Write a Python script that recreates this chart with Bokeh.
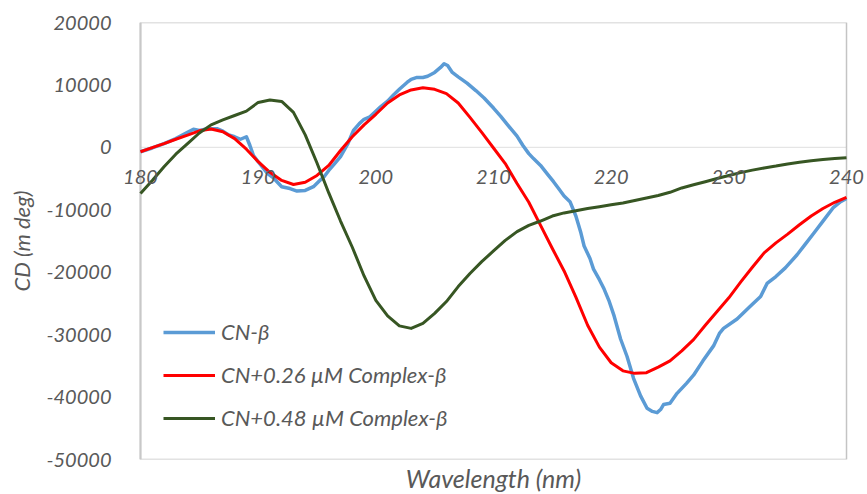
from bokeh.plotting import figure
from bokeh.models import Legend, LegendItem, FixedTicker, Title, Span, BoxAnnotation
from bokeh.embed import file_html
from bokeh.resources import INLINE

# ---------------- data ----------------
red_wl = list(range(180, 241))
red_cd = [-700, -50, 600, 1300, 1950, 2650, 2950, 2500, 1400, -300,
          -2300, -4000, -5300, -5950, -5600, -4500, -2900, -500, 1700, 3600,
          5300, 7100, 8400, 9200, 9550, 9300, 8600, 7100, 4800, 2400,
          -100, -2600, -5800, -8800, -12500, -16200, -19800, -24000, -28500, -32000,
          -34500, -35800, -36200, -36100, -35200, -34200, -32600, -30800, -28500, -26300,
          -24100, -21600, -19200, -16900, -15300, -13900, -12400, -11000, -9800, -8800,
          -8000]

green_wl = list(range(180, 241))
green_cd = [-7400, -5300, -3100, -1100, 600, 2300, 3600, 4400, 5100, 5800,
            7200, 7600, 7350, 5600, 2000, -2500, -7300, -11800, -16000, -20600,
            -24500, -27000, -28600, -29000, -28200, -26600, -24700, -22300, -20200, -18300,
            -16600, -14900, -13500, -12500, -11800, -11000, -10500, -10150, -9800, -9500,
            -9200, -8900, -8500, -8100, -7700, -7200, -6500, -6000, -5500, -5000,
            -4500, -4050, -3650, -3300, -3000, -2650, -2400, -2150, -1950, -1800,
            -1650]

blue_wl = [180, 181, 182, 183, 184, 184.5, 185, 185.5, 186, 186.5,
           187, 187.5, 188, 188.5, 189, 189.3, 189.6, 190, 190.8, 191.3,
           192, 192.7, 193.3, 194, 194.7, 195.3, 195.6, 196, 196.5, 197,
           197.3, 197.6, 198.1, 198.6, 199, 199.5, 200, 200.4, 201, 201.5,
           202, 202.65, 203, 203.5, 204, 204.4, 205, 205.5, 205.8, 206.1,
           206.5, 207, 207.75, 208.5, 209.2, 210, 210.6, 211.2, 212, 212.5,
           213, 213.4, 214, 214.55, 215.1, 215.5, 216, 216.5, 217, 217.4,
           217.7, 218.2, 218.5, 219, 219.4, 219.8, 220.25, 220.8, 221.35, 221.9,
           222.5, 223.05, 223.5, 223.9, 224.2, 224.45, 225, 225.6, 226.4, 227,
           227.8, 228.7, 229.2, 229.55, 230.7, 231.8, 232.7, 233.25, 234, 234.8,
           235.8, 236.5, 237.2, 238.05, 238.9, 239.5, 240]
blue_cd = [-700, -100, 600, 1400, 2400, 2900, 2700, 2900, 3000, 3000,
           2600, 2000, 1700, 1300, 1700, 300, -1300, -2300, -4200, -4900,
           -6300, -6600, -7000, -6900, -6300, -5200, -4700, -3700, -2600, -1500,
           -500, 500, 2700, 3800, 4500, 4900, 5800, 6500, 7400, 8400,
           9300, 10400, 10900, 11200, 11200, 11400, 12000, 12800, 13400, 13100,
           12000, 11300, 10300, 9100, 7900, 6300, 5000, 3600, 1800, 300,
           -1000, -1800, -2900, -4200, -5500, -6500, -7800, -8700, -11000, -13500,
           -15800, -17800, -19500, -21200, -22700, -24500, -27000, -30700, -33500, -37000,
           -39800, -41800, -42300, -42500, -42000, -41200, -41000, -39400, -37800, -36500,
           -34200, -31800, -29800, -29000, -27500, -25500, -23900, -21800, -20700, -19300,
           -17200, -15500, -13800, -11700, -9600, -8700, -8200]

series_names = ["CN-β", "CN+0.26 µM Complex-β", "CN+0.48 µM Complex-β"]
x_ticks = [180, 190, 200, 210, 220, 230, 240]
y_ticks = [20000, 10000, 0, -10000, -20000, -30000, -40000, -50000]
y_tick_labels = ["20000", "10000", "0", "-10000", "-20000", "-30000", "-40000", "-50000"]
x_title = "Wavelength (nm)"
y_title = "CD (m deg)"

# ---------------- styling ----------------
FONT = "Lato"
GREY = "#595959"
BLUE = "#5B9BD5"
RED = "#FF0000"
GREEN = "#375623"

x_min, x_max = x_ticks[0], x_ticks[-1]
y_min, y_max = y_ticks[-1], y_ticks[0]
pad = 20 / 11.77  # a little room so the end tick labels are not clipped

p = figure(width=867, height=494, x_range=(x_min - pad, x_max + pad), y_range=(y_min, y_max),
           output_backend="svg", toolbar_location=None,
           min_border_left=120, min_border_right=1, min_border_top=22, min_border_bottom=33)
p.background_fill_color = "white"
p.border_fill_color = "white"
p.grid.visible = False
p.outline_line_color = None

# plot-area border: dark on top/right/bottom, light grey on the left
p.add_layout(BoxAnnotation(left=x_min, right=x_max, bottom=y_min, top=y_max,
                           fill_alpha=0, line_color="#3a3a3a", line_width=1.5, level="underlay"))
p.add_layout(Span(location=x_min, dimension="height", line_color="#c8c8c8", line_width=2,
                  level="underlay"))
# zero line (horizontal axis position)
p.add_layout(BoxAnnotation(left=x_min, right=x_max, bottom=0, top=0,
                           fill_alpha=0, line_color="#c8c8c8", line_width=1, level="underlay"))

# x axis sits on the zero line
xa = p.xaxis[0]
xa.fixed_location = 0
xa.ticker = FixedTicker(ticks=x_ticks)
xa.axis_line_color = None
xa.major_tick_line_color = None
xa.minor_tick_line_color = None
xa.major_label_standoff = 17
xa.major_label_text_font = FONT
xa.major_label_text_font_style = "italic"
xa.major_label_text_font_size = "20px"
xa.major_label_text_color = GREY

ya = p.yaxis[0]
ya.ticker = FixedTicker(ticks=y_ticks)
ya.major_label_overrides = {t: s for t, s in zip(y_ticks, y_tick_labels)}
ya.axis_line_color = None
ya.major_tick_line_color = None
ya.minor_tick_line_color = None
ya.major_label_standoff = 3
ya.major_label_text_font = FONT
ya.major_label_text_font_style = "italic"
ya.major_label_text_font_size = "20px"
ya.major_label_text_color = GREY
ya.axis_label = y_title
ya.axis_label_text_font = FONT
ya.axis_label_text_font_style = "italic"
ya.axis_label_text_font_size = "22px"
ya.axis_label_text_color = GREY
ya.axis_label_standoff = 8

p.add_layout(Title(text=x_title, align="center", text_font=FONT, text_font_style="italic",
                   text_font_size="25px", text_color=GREY, standoff=3), "below")

r_blue = p.line(blue_wl, blue_cd, line_color=BLUE, line_width=3.5, line_join="round")
r_red = p.line(red_wl, red_cd, line_color=RED, line_width=3, line_join="round")
r_green = p.line(green_wl, green_cd, line_color=GREEN, line_width=3, line_join="round")

legend = Legend(items=[LegendItem(label=series_names[0], renderers=[r_blue]),
                       LegendItem(label=series_names[1], renderers=[r_red]),
                       LegendItem(label=series_names[2], renderers=[r_green])],
                location=(43, 28), background_fill_alpha=0, border_line_color=None,
                glyph_width=52, glyph_height=22, label_height=22, label_standoff=6,
                spacing=16, padding=10, margin=0,
                label_text_font=FONT, label_text_font_style="italic",
                label_text_font_size="22px", label_text_color=GREY)
p.add_layout(legend)

open("out.html", "w").write(file_html(p, INLINE))
